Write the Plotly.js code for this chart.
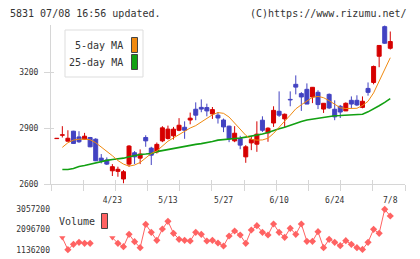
<!DOCTYPE html>
<html>
<head>
<meta charset="utf-8">
<script src="https://cdn.plot.ly/plotly-3.0.1.min.js"></script>
<style>
  html, body { margin: 0; padding: 0; background: #fff; }
  #chart { width: 420px; height: 259px; }
</style>
</head>
<body>
<div id="chart"></div>
<script>
// Daily OHLC for code 5831, one entry per trading session (oldest first)
const open  = [2844,2862,2830,2884,2853,2841,2850,2841,2739,2729,2671,2668,2627,2707,2768,2739,2850,2793,2773,2832,2845,2859,2889,2905,2944,3002,3012,3011,2977,2970,2944,2911,2832,2845,2746,2821,2814,2943,2875,2928,2991,2950,3055,3136,3086,3109,3068,3093,3003,3082,3002,3018,2993,3050,3050,3012,3114,3146,3287,3446,3330];
const high  = [2846,2911,2889,2886,2884,2875,2853,2846,2761,2743,2707,2693,2675,2809,2777,2786,2862,2800,2823,2911,2914,2907,2954,2937,2984,3039,3055,3032,3014,2987,2952,2914,2911,2859,2809,2857,2937,2964,2905,3018,3098,2979,3098,3184,3094,3141,3120,3104,3034,3087,3050,3025,3039,3071,3077,3071,3146,3237,3345,3452,3420];
const low   = [2844,2850,2830,2816,2821,2841,2798,2723,2711,2702,2643,2639,2604,2693,2707,2707,2800,2702,2764,2825,2839,2839,2884,2843,2921,2943,2986,2964,2950,2925,2879,2825,2825,2787,2714,2782,2773,2880,2827,2907,2961,2904,3018,3082,2993,3030,3035,3003,2982,3003,2943,2955,2993,3007,3019,3007,3075,3136,3228,3354,3323];
const close = [2846,2865,2846,2818,2827,2857,2800,2725,2725,2707,2693,2679,2666,2804,2746,2761,2832,2755,2813,2902,2895,2895,2916,2889,2954,2970,3003,2993,3000,2955,2907,2843,2873,2809,2800,2839,2868,2889,2900,2996,2970,2975,3052,3121,3068,3030,3120,3027,3034,3009,2961,2987,3034,3030,3025,3045,3093,3232,3345,3357,3366];

// Moving averages as published with the chart
const ma5  = [null,2797,2822,2836,2841,2841,2838,2822,2800,2778,2752,2726,2707,2696,2702,2716,2740,2764,2778,2806,2830,2848,2866,2887,2901,2914,2932,2950,2972,2984,2980,2960,2926,2893,2862,2840,2836,2837,2846,2872,2908,2938,2970,3004,3026,3044,3066,3071,3064,3048,3030,3010,3006,3005,3007,3022,3045,3090,3152,3217,3279];
const ma25 = [null,2678,2678,2683,2694,2699,2707,2714,2721,2727,2732,2735,2739,2747,2755,2759,2761,2764,2774,2780,2786,2791,2796,2802,2808,2813,2817,2821,2829,2836,2838,2841,2844,2847,2852,2857,2862,2869,2877,2889,2897,2905,2916,2927,2936,2944,2949,2954,2960,2964,2967,2968,2969,2970,2971,2975,2988,3003,3021,3039,3059];

// Traded volume (null = no figure for that session)
const volume = [null,1706800,1136200,1393000,1488100,1440500,1440500,null,null,null,1706800,1440500,1278900,1868400,1516600,1231300,2344000,1963600,1583200,2120500,2486600,1916000,1630700,1583200,1549900,1963600,1868400,1549900,1583200,1454800,1312100,1787600,2025400,1835200,1440500,2072900,2277400,1963600,1835200,2358200,1963600,1725800,2153800,1868400,2358200,1535600,1535600,1992100,1231300,1630700,1488100,1326400,1564200,1393000,1231300,1150000,1488100,2106200,1916000,3057200,2738600];

// Date labels along the time axis
const dateTickIndex = [10, 20, 30, 40, 50, 60];
const dateTickLabel = ['4/23', '5/13', '5/27', '6/10', '6/24', '7/8'];
const priceTicks = [2600, 2900, 3200];
const volumeTicks = [1136200, 2096700, 3057200];

const session = close.map((_, i) => i);

const FONT = '"DejaVu Sans Mono", "Liberation Mono", monospace';
const TEXT = '#333333';
const AXIS = '#d6d6d6';
const UP = '#d60000';
const DOWN = '#4343c2';
const VOL = '#ff6262';

// page geometry (pixels) -> paper fractions
const W = 420, H = 259, M = { l: 51, r: 15, t: 25, b: 4 };
const PW = W - M.l - M.r, PH = H - M.t - M.b;
const px = x => (x - M.l) / PW;
const py = y => (H - M.b - y) / PH;

function candleParts(up) {
  const bx = [], base = [], hgt = [], wx = [], wy = [];
  session.forEach(i => {
    const isUp = close[i] >= open[i];
    if (isUp !== up) return;
    bx.push(i);
    base.push(Math.min(open[i], close[i]));
    hgt.push(Math.abs(close[i] - open[i]));
    wx.push(i, i, null);
    wy.push(low[i], high[i], null);
  });
  const color = up ? UP : DOWN;
  return [
    { type: 'scatter', mode: 'lines', x: wx, y: wy, xaxis: 'x', yaxis: 'y',
      line: { color, width: 1 }, hoverinfo: 'skip', showlegend: false },
    { type: 'bar', x: bx, base, y: hgt, xaxis: 'x', yaxis: 'y', width: 0.72,
      marker: { color, line: { color, width: 1 } }, hoverinfo: 'skip', showlegend: false }
  ];
}

const volSymbols = volume.map((v, i) => (i > 0 && volume[i - 1] === null) ? 'triangle-down' : 'diamond');

const traces = [
  ...candleParts(true),
  ...candleParts(false),
  { type: 'scatter', mode: 'lines', x: session, y: ma25, line: { color: '#12a012', width: 1.6 },
    hoverinfo: 'skip', showlegend: false },
  { type: 'scatter', mode: 'lines', x: session, y: ma5, line: { color: '#f08a10', width: 1 },
    hoverinfo: 'skip', showlegend: false },
  { type: 'scatter', mode: 'lines+markers', x: session, y: volume, xaxis: 'x2', yaxis: 'y2',
    connectgaps: false, line: { color: VOL, width: 1 },
    marker: { color: VOL, size: 5.5, symbol: volSymbols }, cliponaxis: false,
    hoverinfo: 'skip', showlegend: false },
  // carriers for the tick-mark overlay axes
  { type: 'scatter', x: [], y: [], xaxis: 'x3', yaxis: 'y', showlegend: false, hoverinfo: 'skip' },
  { type: 'scatter', x: [], y: [], xaxis: 'x4', yaxis: 'y', showlegend: false, hoverinfo: 'skip' },
  { type: 'scatter', x: [], y: [], xaxis: 'x', yaxis: 'y3', showlegend: false, hoverinfo: 'skip' }
];

const xRange = [-1.04, 62.65];
const yRange = [2600, 3455];
const gridSteps = Array.from({ length: 12 }, (_, k) => k);

const layout = {
  width: W, height: H,
  margin: M,
  paper_bgcolor: '#ffffff', plot_bgcolor: '#ffffff',
  showlegend: false,
  barmode: 'overlay',
  font: { family: FONT, size: 8, color: TEXT },
  xaxis: {
    domain: [0, 1], range: xRange, anchor: 'y', fixedrange: true,
    showline: true, linecolor: AXIS, linewidth: 1, mirror: false,
    showgrid: false, zeroline: false,
    ticks: 'outside', ticklen: 0, tickvals: dateTickIndex, ticktext: dateTickLabel,
    ticklabelstandoff: 8, tickfont: { family: FONT, size: 8, color: TEXT }
  },
  xaxis2: {
    domain: [0, 1], range: xRange, anchor: 'y2', visible: false, fixedrange: true
  },
  xaxis3: {
    overlaying: 'x', anchor: 'y', range: [0, 11], tickvals: gridSteps,
    ticks: 'outside', ticklen: 6, tickcolor: AXIS, showticklabels: false,
    showline: false, showgrid: false, zeroline: false, fixedrange: true
  },
  xaxis4: {
    overlaying: 'x', anchor: 'y', range: [0, 11], tickvals: gridSteps,
    ticks: 'inside', ticklen: 4, tickcolor: AXIS, showticklabels: false,
    showline: false, showgrid: false, zeroline: false, fixedrange: true
  },
  yaxis: {
    domain: [py(184), 1], range: yRange, anchor: 'x', fixedrange: true,
    showline: true, linecolor: AXIS, linewidth: 1,
    showgrid: false, zeroline: false,
    ticks: 'outside', ticklen: 6, tickcolor: AXIS, tickvals: priceTicks,
    ticklabelstandoff: 4, tickfont: { family: FONT, size: 8, color: TEXT }
  },
  yaxis3: {
    overlaying: 'y', anchor: 'x', range: yRange, tickvals: priceTicks,
    ticks: 'inside', ticklen: 3, tickcolor: AXIS, showticklabels: false,
    showline: false, showgrid: false, zeroline: false, fixedrange: true
  },
  yaxis2: {
    domain: [0, py(200)], range: [884188, 3499411], anchor: 'x2', fixedrange: true,
    showline: false, showgrid: false, zeroline: false,
    ticks: '', tickvals: volumeTicks, tickformat: 'd',
    tickfont: { family: FONT, size: 8, color: TEXT }
  },
  shapes: [
    // price legend frame and swatches
    { type: 'rect', xref: 'paper', yref: 'paper', x0: px(65), x1: px(143), y0: py(30), y1: py(77),
      line: { color: '#dddddd', width: 1 }, fillcolor: '#ffffff', layer: 'above' },
    { type: 'rect', xref: 'paper', yref: 'paper', x0: px(131.5), x1: px(137.5), y0: py(37.5), y1: py(52.5),
      line: { color: '#444444', width: 1 }, fillcolor: '#f08a10', layer: 'above' },
    { type: 'rect', xref: 'paper', yref: 'paper', x0: px(131.5), x1: px(137.5), y0: py(54.5), y1: py(69.5),
      line: { color: '#444444', width: 1 }, fillcolor: '#12a012', layer: 'above' },
    // volume legend swatch
    { type: 'rect', xref: 'paper', yref: 'paper', x0: px(101.5), x1: px(107.5), y0: py(213.5), y1: py(228.5),
      line: { color: '#444444', width: 1 }, fillcolor: VOL, layer: 'above' }
  ],
  annotations: [
    { text: '5831 07/08 16:56 updated.', xref: 'paper', yref: 'paper', x: px(8), y: py(13),
      xanchor: 'left', yanchor: 'middle', showarrow: false, font: { family: FONT, size: 10, color: TEXT } },
    { text: '(C)https://www.rizumu.net/', xref: 'paper', yref: 'paper', x: px(409), y: py(13),
      xanchor: 'right', yanchor: 'middle', showarrow: false, font: { family: FONT, size: 10, color: TEXT } },
    { text: '5-day MA', xref: 'paper', yref: 'paper', x: px(125), y: py(45.5),
      xanchor: 'right', yanchor: 'middle', showarrow: false, font: { family: FONT, size: 10, color: TEXT } },
    { text: '25-day MA', xref: 'paper', yref: 'paper', x: px(125), y: py(62.5),
      xanchor: 'right', yanchor: 'middle', showarrow: false, font: { family: FONT, size: 10, color: TEXT } },
    { text: 'Volume', xref: 'paper', yref: 'paper', x: px(57), y: py(221.5),
      xanchor: 'left', yanchor: 'middle', showarrow: false, font: { family: FONT, size: 10, color: TEXT } }
  ]
};

Plotly.newPlot('chart', traces, layout, { displayModeBar: false, staticPlot: true });
</script>
</body>
</html>
